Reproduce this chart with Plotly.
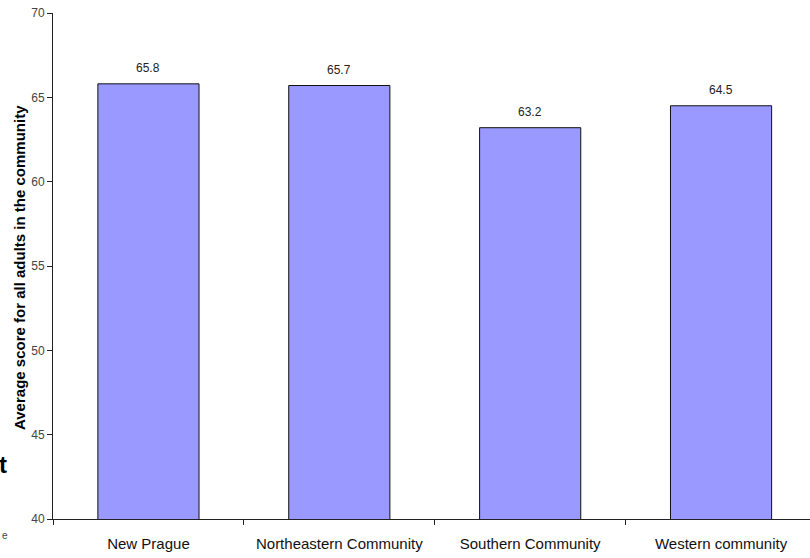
import plotly.graph_objects as go

communities = ["New Prague", "Northeastern Community", "Southern Community", "Western community"]
avg_scores = [65.8, 65.7, 63.2, 64.5]
y_ticks = [40, 45, 50, 55, 60, 65, 70]

W, H = 810, 558
L, T, B = 53, 13, 39
plot_w = W - L
plot_h = H - T - B
FONT = "Liberation Sans, Arial, sans-serif"

fig = go.Figure(
    go.Bar(
        x=communities,
        y=avg_scores,
        width=0.53,
        marker=dict(color="#9999FF", line=dict(color="#111111", width=1)),
        hoverinfo="skip",
    )
)

# value labels above each bar
for c, v in zip(communities, avg_scores):
    fig.add_annotation(
        x=c, y=v, xref="x", yref="y", text=f"{v:.1f}", showarrow=False,
        yanchor="bottom", yshift=7, font=dict(family=FONT, size=12, color="#222222"),
    )

def px_x(p):
    return (p - L) / plot_w

def px_y(p):
    return (H - B - p) / plot_h

fig.add_annotation(
    x=px_x(19), y=px_y(268), xref="paper", yref="paper",
    text="<b>Average score for all adults in the community</b>", textangle=-90,
    showarrow=False, xanchor="center", yanchor="middle",
    font=dict(family=FONT, size=15, color="#000000"),
)
# fragments of neighbouring text at the left edge
fig.add_annotation(
    x=px_x(9), y=px_y(464), xref="paper", yref="paper", text="<b>t</b>",
    showarrow=False, xanchor="right", yanchor="middle",
    font=dict(family=FONT, size=24, color="#000000"),
)
fig.add_annotation(
    x=px_x(0), y=px_y(535), xref="paper", yref="paper", text="e",
    showarrow=False, xanchor="left", yanchor="middle",
    font=dict(family=FONT, size=10, color="#444444"),
)

fig.update_layout(
    width=W, height=H,
    margin=dict(l=L, r=0, t=T, b=B, pad=0),
    paper_bgcolor="white", plot_bgcolor="white",
    showlegend=False,
    bargap=0.47,
    xaxis=dict(
        type="category", range=[-0.5, 3.466],
        showline=True, linecolor="#222222", linewidth=1,
        ticks="outside", tickson="boundaries", ticklen=5, tickcolor="#222222",
        showgrid=False,
        ticklabelstandoff=11,
        tickfont=dict(family=FONT, size=15, color="#111111"),
    ),
    yaxis=dict(
        range=[40, 70], tickvals=y_ticks,
        showline=True, linecolor="#222222", linewidth=1,
        ticks="outside", ticklen=5, tickcolor="#222222",
        showgrid=False, zeroline=False,
        tickfont=dict(family=FONT, size=12, color="#444444"),
    ),
)

fig.write_html("out.html")
